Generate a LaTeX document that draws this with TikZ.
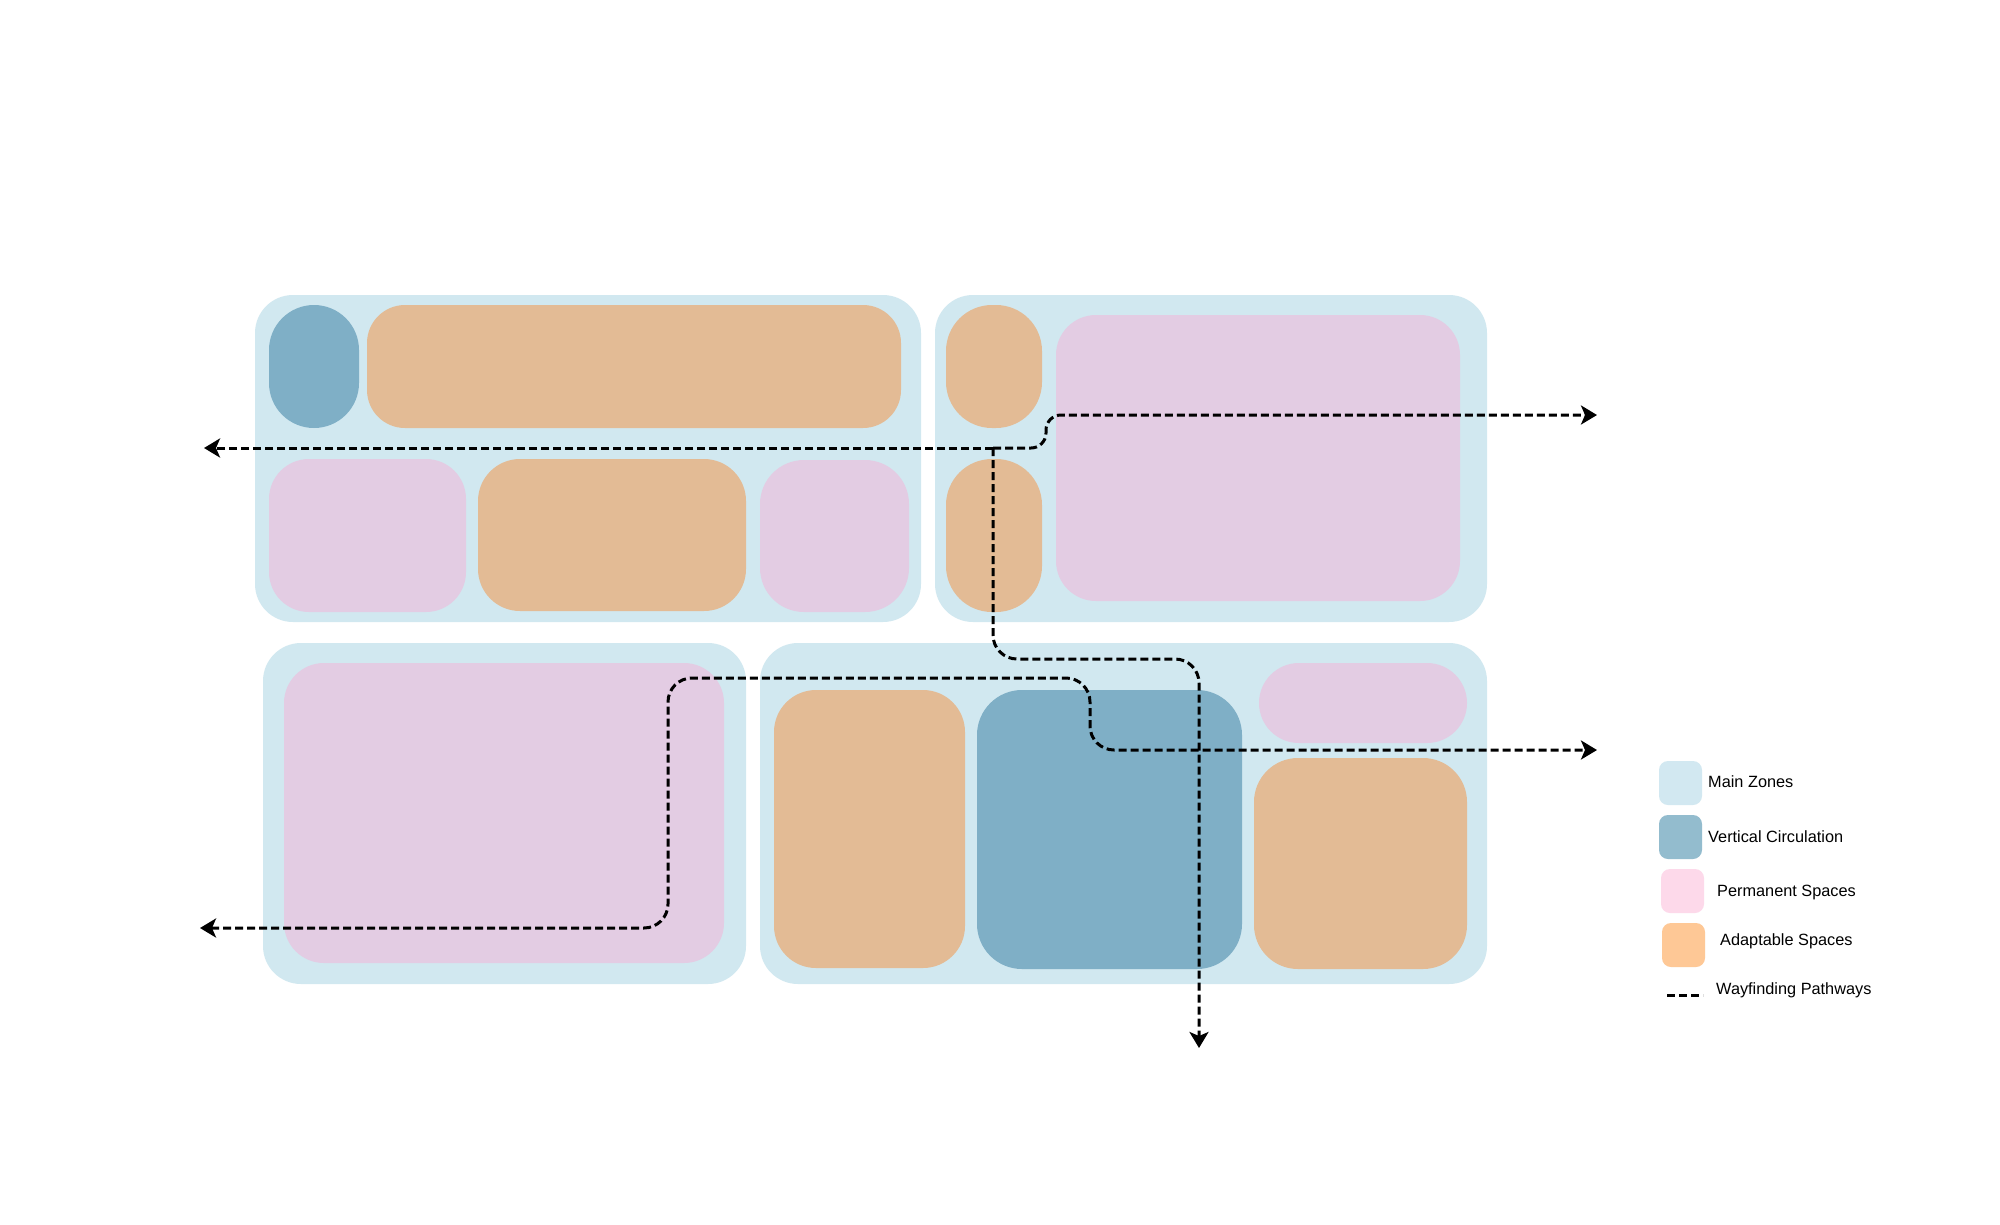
\documentclass[tikz,border=0pt]{standalone}
\usepackage{fontspec}
\setmainfont{Liberation Sans}
\usetikzlibrary{arrows.meta}
\definecolor{zoneC}{HTML}{D1E8F0}
\definecolor{vertC}{HTML}{7FAFC6}
\definecolor{adaptC}{HTML}{E3BB95}
\definecolor{permC}{HTML}{E3CCE3}
\definecolor{legMain}{HTML}{D2E8F1}
\definecolor{legVert}{HTML}{93BCCE}
\definecolor{legPerm}{HTML}{FDD9EA}
\definecolor{legAdapt}{HTML}{FEC896}
\begin{document}
\begin{tikzpicture}[x=1pt,y=-1pt,
  area/.style={inner sep=0pt, outer sep=0pt, anchor=north west, draw=none},
  zone/.style={area, fill=zoneC, rounded corners=38pt},
  vert/.style={area, fill=vertC},
  adapt/.style={area, fill=adaptC},
  perm/.style={area, fill=permC},
  swatch/.style={area, minimum width=43pt, minimum height=44pt, rounded corners=9pt},
  legtext/.style={anchor=base west, inner sep=0pt, font=\fontsize{16.3pt}{19pt}\selectfont},
  way/.style={draw=black, line width=3pt, dash pattern=on 8pt off 4pt},
  tip/.style={-{Stealth[length=16pt,width=19pt,inset=4pt]}},
  tips/.style={{Stealth[length=16pt,width=19pt,inset=4pt]}-{Stealth[length=16pt,width=19pt,inset=4pt]}}
]
\useasboundingbox[fill=white] (0,0) rectangle (2000,1224);

% main zones
\node[zone, minimum width=666pt, minimum height=327pt] (zA) at (255,295) {};
\node[zone, minimum width=552pt, minimum height=327pt] (zB) at (935,295) {};
\node[zone, minimum width=483pt, minimum height=341pt] (zC) at (263,643) {};
\node[zone, minimum width=727pt, minimum height=341pt] (zD) at (760,643) {};

% zone A
\node[vert,  minimum width=90pt,  minimum height=123pt, rounded corners=45pt] (a1) at (269,305) {};
\node[adapt, minimum width=534pt, minimum height=123pt, rounded corners=38pt] (a2) at (367,305) {};
\node[perm,  minimum width=197pt, minimum height=153pt, rounded corners=40pt] (a3) at (269,459) {};
\node[adapt, minimum width=268pt, minimum height=152pt, rounded corners=42pt] (a4) at (478,459) {};
\node[perm,  minimum width=149pt, minimum height=152pt, rounded corners=44pt] (a5) at (760,460) {};

% zone B
\node[adapt, minimum width=96pt,  minimum height=123pt, rounded corners=46pt] (b1) at (946,305) {};
\node[adapt, minimum width=96pt,  minimum height=153pt, rounded corners=46pt] (b2) at (946,459) {};
\node[perm,  minimum width=404pt, minimum height=286pt, rounded corners=40pt] (b3) at (1056,315) {};

% zone C
\node[perm,  minimum width=440pt, minimum height=300pt, rounded corners=40pt] (c1) at (284,663) {};

% zone D
\node[adapt, minimum width=191pt, minimum height=278pt, rounded corners=42pt] (d1) at (774,690) {};
\node[vert,  minimum width=265pt, minimum height=279pt, rounded corners=45pt] (d2) at (977,690) {};
\node[perm,  minimum width=208pt, minimum height=80pt,  rounded corners=40pt] (d3) at (1259,663) {};
\node[adapt, minimum width=213pt, minimum height=211pt, rounded corners=44pt] (d4) at (1254,758) {};

% wayfinding pathways
\coordinate (hub) at (993,448);
\coordinate (endW1) at (204,448);
\coordinate (endE1) at (1597,415);
\coordinate (endS1) at (1199,1048);
\coordinate (endW2) at (200,928);
\coordinate (endE2) at (1597,750);

\draw[way, tip] (hub) -- (endW1);
\draw[way, tip, rounded corners=15pt] (hub) -- (1046,448) -- (1046,415) -- (endE1);
\draw[way, tip, rounded corners=24pt] (hub) -- (993,659) -- (1199,659) -- (endS1);
\draw[way, tips, rounded corners=24pt] (endW2) -- (668,928) -- (668,678) -- (1090,678) -- (1090,750) -- (endE2);

% legend
\node[swatch, fill=legMain]  (l1) at (1659,761) {};
\node[swatch, fill=legVert]  (l2) at (1659,815) {};
\node[swatch, fill=legPerm]  (l3) at (1661,869) {};
\node[swatch, fill=legAdapt] (l4) at (1662,923) {};
\coordinate (l5a) at (1667,995);
\coordinate (l5b) at (1703,995);
\draw[way] (l5a) -- (l5b);

\node[legtext] (t1) at (1708,787) {Main Zones};
\node[legtext] (t2) at (1708,842) {Vertical Circulation};
\node[legtext] (t3) at (1717,896) {Permanent Spaces};
\node[legtext] (t4) at (1720,945) {Adaptable Spaces};
\node[legtext] (t5) at (1716,994) {Wayfinding Pathways};
\end{tikzpicture}
\end{document}
